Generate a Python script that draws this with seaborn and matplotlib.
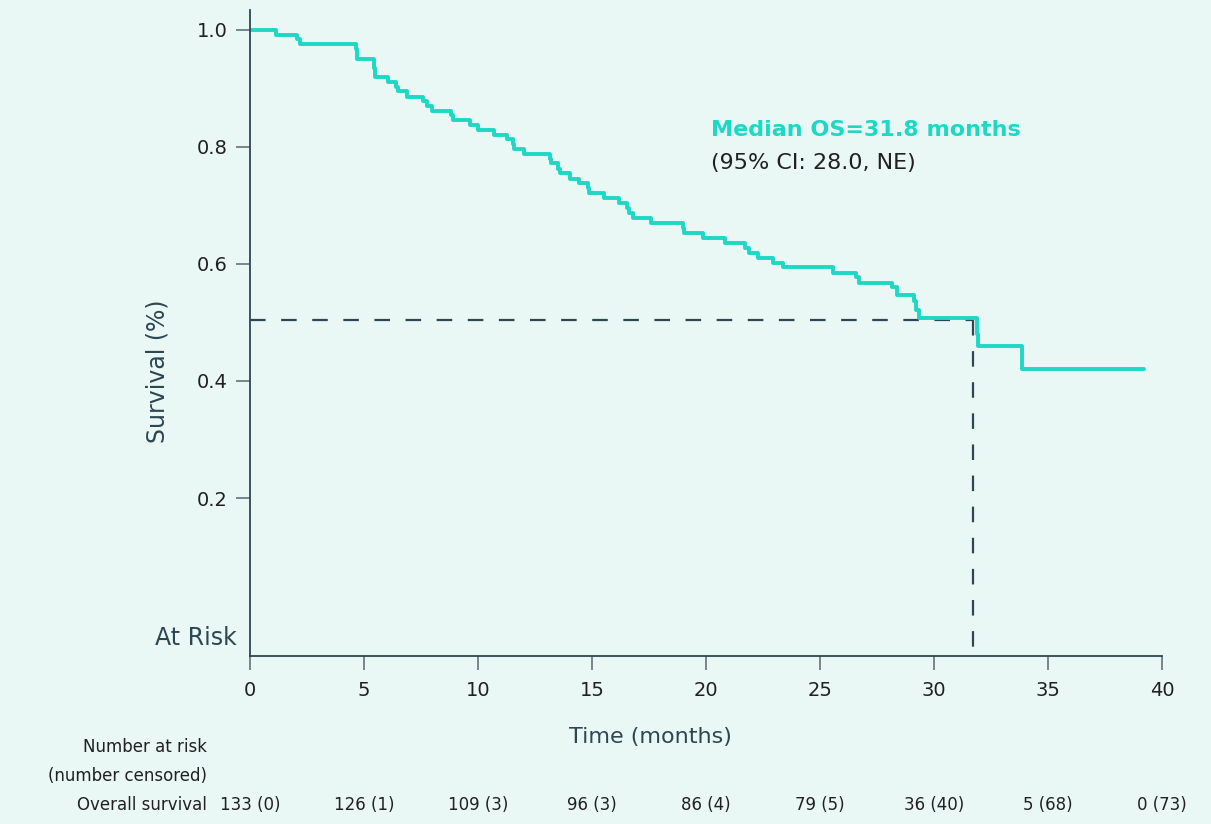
import numpy as np
import pandas as pd
import matplotlib
matplotlib.use("Agg")
import matplotlib.pyplot as plt
import seaborn as sns

# =========================
# DATOS
# =========================
tiempo = [0, 1.14, 2.08, 2.2, 4.64, 4.71, 5.42, 5.48, 6.04, 6.39, 6.48, 6.88, 7.58, 7.78,
          7.97, 8.81, 8.90, 9.67, 9.98, 10.68, 11.27, 11.54, 11.6, 12.0, 13.17, 13.2,
          13.53, 13.6, 14.02, 14.44, 14.81, 14.85, 15.54, 16.17, 16.53, 16.62, 16.78,
          17.59, 18.98, 19.02, 19.87, 20.83, 21.69, 21.9, 22.29, 22.94, 23.38, 25.58,
          26.59, 26.70, 28.16, 28.36, 29.12, 29.2, 29.34, 31.87, 31.94, 33.87, 39.2]
supervivencia = [1.0, 0.992, 0.984, 0.976, 0.968, 0.951, 0.935, 0.919, 0.911, 0.903, 0.895,
                 0.886, 0.878, 0.870, 0.862, 0.854, 0.846, 0.837, 0.829, 0.821, 0.813,
                 0.805, 0.796, 0.788, 0.780, 0.772, 0.763, 0.755, 0.746, 0.738, 0.729,
                 0.721, 0.712, 0.704, 0.695, 0.687, 0.678, 0.670, 0.661, 0.653, 0.644,
                 0.636, 0.627, 0.618, 0.610, 0.602, 0.594, 0.585, 0.577, 0.568, 0.560,
                 0.547, 0.536, 0.521, 0.508, 0.480, 0.459, 0.421, 0.421]

mediana_t = 31.7
mediana_s = 0.505

tiempos_riesgo = [0, 5, 10, 15, 20, 25, 30, 35, 40]
en_riesgo = ["133 (0)", "126 (1)", "109 (3)", "96 (3)", "86 (4)", "79 (5)",
             "36 (40)", "5 (68)", "0 (73)"]

# =========================
# ESTILO
# =========================
FONDO = "#E9F8F5"
TURQUESA = "#1ED8C6"
PIZARRA = "#2C4652"
TEXTO = "#231F20"

sns.set_style("white", {"axes.facecolor": FONDO, "figure.facecolor": FONDO})
plt.rcParams["font.family"] = ["DejaVu Sans"]

df = pd.DataFrame({"Tiempo": tiempo, "Supervivencia": supervivencia})

fig = plt.figure(figsize=(12.11, 8.24), dpi=100)
ax = fig.add_axes([250 / 1211, 1 - 656 / 824, 912 / 1211, 646 / 824])

sns.lineplot(data=df, x="Tiempo", y="Supervivencia", ax=ax, color=TURQUESA,
             linewidth=2.8, drawstyle="steps-post", estimator=None, sort=False)

# líneas de la mediana
ax.plot([0, mediana_t], [mediana_s, mediana_s], color=PIZARRA, lw=1.6,
        dashes=(7, 7), zorder=1)
ax.plot([mediana_t, mediana_t], [mediana_s, -0.064], color=PIZARRA, lw=1.6,
        dashes=(7, 7), zorder=1)

ax.set_xlim(0, 40)
ax.set_ylim(-0.070, 1.034)
ax.set_xticks(range(0, 41, 5))
ax.set_yticks([0.2, 0.4, 0.6, 0.8, 1.0])
ax.set_yticklabels(["0.2", "0.4", "0.6", "0.8", "1.0"])
ax.tick_params(axis="both", bottom=True, left=True, length=10, width=1.3,
               color="#6B7C85", labelsize=14, labelcolor=TEXTO)
ax.tick_params(axis="x", pad=8)
ax.tick_params(axis="y", pad=6)
for lado in ["top", "right"]:
    ax.spines[lado].set_visible(False)
for lado in ["left", "bottom"]:
    ax.spines[lado].set_color(PIZARRA)
    ax.spines[lado].set_linewidth(1.3)
ax.set_xlabel("")
ax.set_ylabel("")

ax.text(-0.6, -0.04, "At Risk", ha="right", va="center", fontsize=17, color=PIZARRA)

fig.text(157 / 1211, 1 - 371 / 824, "Survival (%)", rotation=90, ha="center",
         va="center", fontsize=17, color=PIZARRA)
fig.text(650 / 1211, 1 - 737 / 824, "Time (months)", ha="center", va="center",
         fontsize=16, color=PIZARRA)

ax.text(20.24, 0.829, "Median OS=31.8 months", fontsize=16, fontweight="bold",
        color=TURQUESA, va="center", ha="left")
ax.text(20.24, 0.773, "(95% CI: 28.0, NE)", fontsize=16, color=TEXTO,
        va="center", ha="left")

# tabla de pacientes en riesgo
fig.text(207 / 1211, 1 - 747 / 824, "Number at risk", ha="right", va="center",
         fontsize=12, color=TEXTO)
fig.text(207 / 1211, 1 - 776 / 824, "(number censored)", ha="right", va="center",
         fontsize=12, color=TEXTO)
fig.text(207 / 1211, 1 - 805 / 824, "Overall survival", ha="right", va="center",
         fontsize=12, color=TEXTO)
trans = matplotlib.transforms.blended_transform_factory(ax.transData, fig.transFigure)
for t, txt in zip(tiempos_riesgo, en_riesgo):
    ax.text(t, 1 - 805 / 824, txt, transform=trans, ha="center", va="center",
            fontsize=12, color=TEXTO)

plt.savefig("out.png", dpi=100, facecolor=FONDO)
